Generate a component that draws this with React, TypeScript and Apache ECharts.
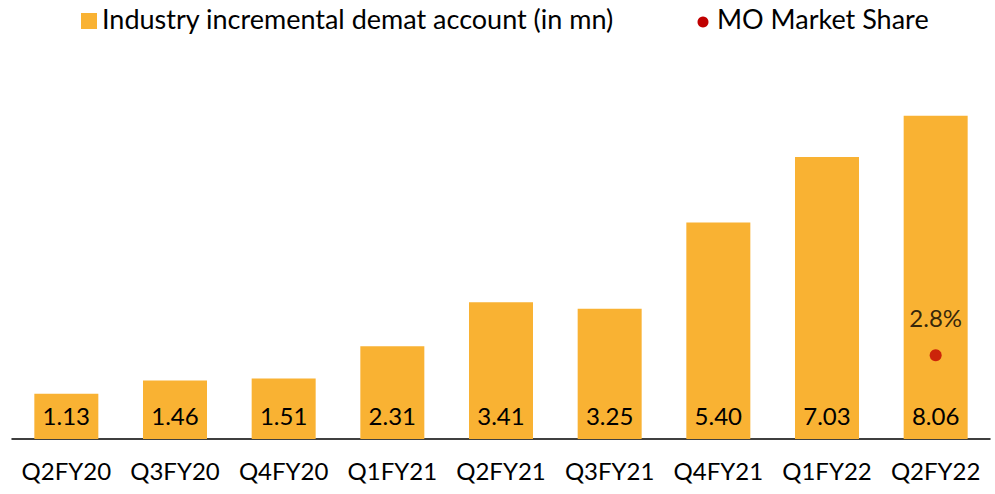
import React, { useEffect, useRef } from "react";
import * as echarts from "echarts";

const categories = ["Q2FY20", "Q3FY20", "Q4FY20", "Q1FY21", "Q2FY21", "Q3FY21", "Q4FY21", "Q1FY22", "Q2FY22"];
const dematAccounts = [1.13, 1.46, 1.51, 2.31, 3.41, 3.25, 5.4, 7.03, 8.06];
const moMarketShare: (number | null)[] = [null, null, null, null, null, null, null, null, 2.8];

const FONT = "Lato, 'Open Sans', sans-serif";

export default function App() {
  const ref = useRef<HTMLDivElement>(null);
  useEffect(() => {
    if (!ref.current) return;
    const chart = echarts.init(ref.current, undefined, { renderer: "svg" });
    chart.setOption({
      animation: false,
      textStyle: { fontFamily: FONT },
      grid: { left: 12, right: 5, top: 38, bottom: 55, containLabel: false },
      xAxis: {
        type: "category",
        data: categories,
        axisLine: { show: true, lineStyle: { color: "#000", width: 1.5 } },
        axisTick: { show: false },
        axisLabel: { color: "#000", fontSize: 24, fontFamily: FONT, margin: 19, interval: 0 },
      },
      yAxis: [
        { type: "value", min: 0, max: 10, show: false, splitLine: { show: false } },
        { type: "value", min: 0, max: 13.4, show: false, splitLine: { show: false } },
      ],
      graphic: [
        { type: "rect", left: 81, top: 13, shape: { width: 16, height: 16 }, style: { fill: "#F9B233" } },
        {
          type: "text", left: 102, top: 5,
          style: { text: "Industry incremental demat account (in mn)", fill: "#000", font: `27px ${FONT}` },
        },
        { type: "circle", shape: { cx: 703, cy: 22, r: 5.5 }, style: { fill: "#C00000" } },
        {
          type: "text", left: 717, top: 5,
          style: { text: "MO Market Share", fill: "#000", font: `27px ${FONT}` },
        },
      ],
      series: [
        {
          type: "bar",
          name: "Industry incremental demat account (in mn)",
          data: dematAccounts,
          barWidth: 64,
          itemStyle: { color: "#F9B233" },
          label: {
            show: true,
            position: "insideBottom",
            distance: 12,
            color: "#000",
            fontSize: 24,
            fontFamily: FONT,
            formatter: (p: any) => p.value.toFixed(2),
          },
        },
        {
          type: "scatter",
          name: "MO Market Share",
          yAxisIndex: 1,
          data: moMarketShare,
          symbol: "circle",
          symbolSize: 12,
          itemStyle: { color: "#C00000" },
          label: {
            show: true,
            position: "top",
            distance: 20,
            color: "#000",
            fontSize: 24,
            fontFamily: FONT,
            formatter: (p: any) => `${p.value}%`,
          },
        },
      ],
    });
    return () => chart.dispose();
  }, []);
  return <div ref={ref} style={{ width: 995, height: 494, position: "absolute", left: 0, top: 0 }} />;
}
